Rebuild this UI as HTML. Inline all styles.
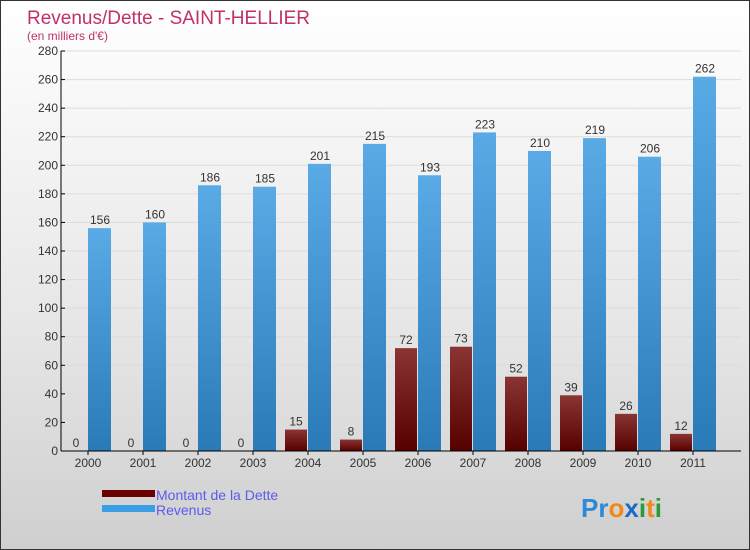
<!DOCTYPE html>
<html><head><meta charset="utf-8"><style>
body{margin:0}
#c{width:750px;height:550px;position:relative;overflow:hidden;box-sizing:border-box;border:1px solid #333;background:linear-gradient(#ffffff 0%,#e6e6e6 60%,#cfcfcf 100%);font-family:"Liberation Sans",sans-serif}
</style></head><body>
<div id="c">
<svg id="s" width="750" height="550" style="position:absolute;left:0;top:0">
<defs>
<linearGradient id="gd" x1="0" y1="0" x2="0" y2="1"><stop offset="0" stop-color="#8a3434"/><stop offset="1" stop-color="#560000"/></linearGradient>
<linearGradient id="gr" x1="0" y1="0" x2="0" y2="1"><stop offset="0" stop-color="#5aaae6"/><stop offset="1" stop-color="#2a7ab8"/></linearGradient>
</defs>
<text x="26" y="23" font-size="19" fill="#c0306a">Revenus/Dette - SAINT-HELLIER</text>
<text x="26" y="39" font-size="12" fill="#c0306a">(en milliers d'€)</text>
<g id="g"></g>
<g>
<rect x="101" y="489" width="53" height="7" fill="#6a0000"/>
<text x="155" y="499" font-size="14" fill="#5a5af0">Montant de la Dette</text>
<rect x="101" y="504" width="53" height="7" fill="#3a9ee6"/>
<text x="155" y="514" font-size="14" fill="#5a5af0">Revenus</text>
</g>
<text x="580" y="516" font-size="26" font-weight="bold"><tspan fill="#2a8ad8">Pr</tspan><tspan fill="#f08a1a">o</tspan><tspan fill="#1a6ac8">x</tspan><tspan fill="#2a9a3a">i</tspan><tspan fill="#f08a1a">t</tspan><tspan fill="#2a9a3a">i</tspan></text>
</svg>
</div>
<script>
const years=["2000","2001","2002","2003","2004","2005","2006","2007","2008","2009","2010","2011"];
const dette=[0,0,0,0,15,8,72,73,52,39,26,12];
const revenus=[156,160,186,185,201,215,193,223,210,219,206,262];
const yTicks=[0,20,40,60,80,100,120,140,160,180,200,220,240,260,280];
const NS="http://www.w3.org/2000/svg";
const g=document.getElementById('g');
const y0=450,yTop=50,yMax=280,x0=60,x1=740,step=55,first=87;
function ys(v){return y0-(v/yMax)*(y0-yTop);}
function xc(i){return first+i*step;}
function mk(t,a){const e=document.createElementNS(NS,t);for(const k in a)e.setAttribute(k,a[k]);g.appendChild(e);return e;}
yTicks.forEach(v=>{
 const l=mk('line',{x1:x0+1,x2:x1,y1:ys(v),y2:ys(v),stroke:'#dcdcdc'});
 
 
 const tk=mk('line',{x1:x0,x2:x0+4,y1:ys(v),y2:ys(v),stroke:'#000'});
 
 
 const t=mk('text',{x:x0-3,y:ys(v)+4,'text-anchor':'end','font-size':12,fill:'#333'});
 t.textContent=v;
 
 
});
years.forEach((yr,i)=>{
 const c=xc(i);
 const hd=y0-ys(dette[i]);
 const b1=mk('rect',{x:c-23,y:ys(dette[i]),width:22,height:hd,fill:'url(#gd)'});
 
 
 const t1=mk('text',{x:c-12,y:ys(dette[i])-4,'text-anchor':'middle','font-size':12,fill:'#333'});
 t1.textContent=dette[i];
 
 
 const b2=mk('rect',{x:c,y:ys(revenus[i]),width:23,height:y0-ys(revenus[i]),fill:'url(#gr)'});
 
 
 const t2=mk('text',{x:c+12,y:ys(revenus[i])-4,'text-anchor':'middle','font-size':12,fill:'#333'});
 t2.textContent=revenus[i];
 
 
 const tk=mk('line',{x1:c,x2:c,y1:y0,y2:y0+4,stroke:'#000'});
 
 
 const xl=mk('text',{x:c,y:y0+16,'text-anchor':'middle','font-size':12,fill:'#333'});
 xl.textContent=yr;
 
 
});
const ax=mk('line',{x1:x0,x2:x0,y1:yTop,y2:y0,stroke:'#000'});


const bx=mk('line',{x1:x0,x2:x1,y1:y0,y2:y0,stroke:'#000'});


</script>
</body></html>
